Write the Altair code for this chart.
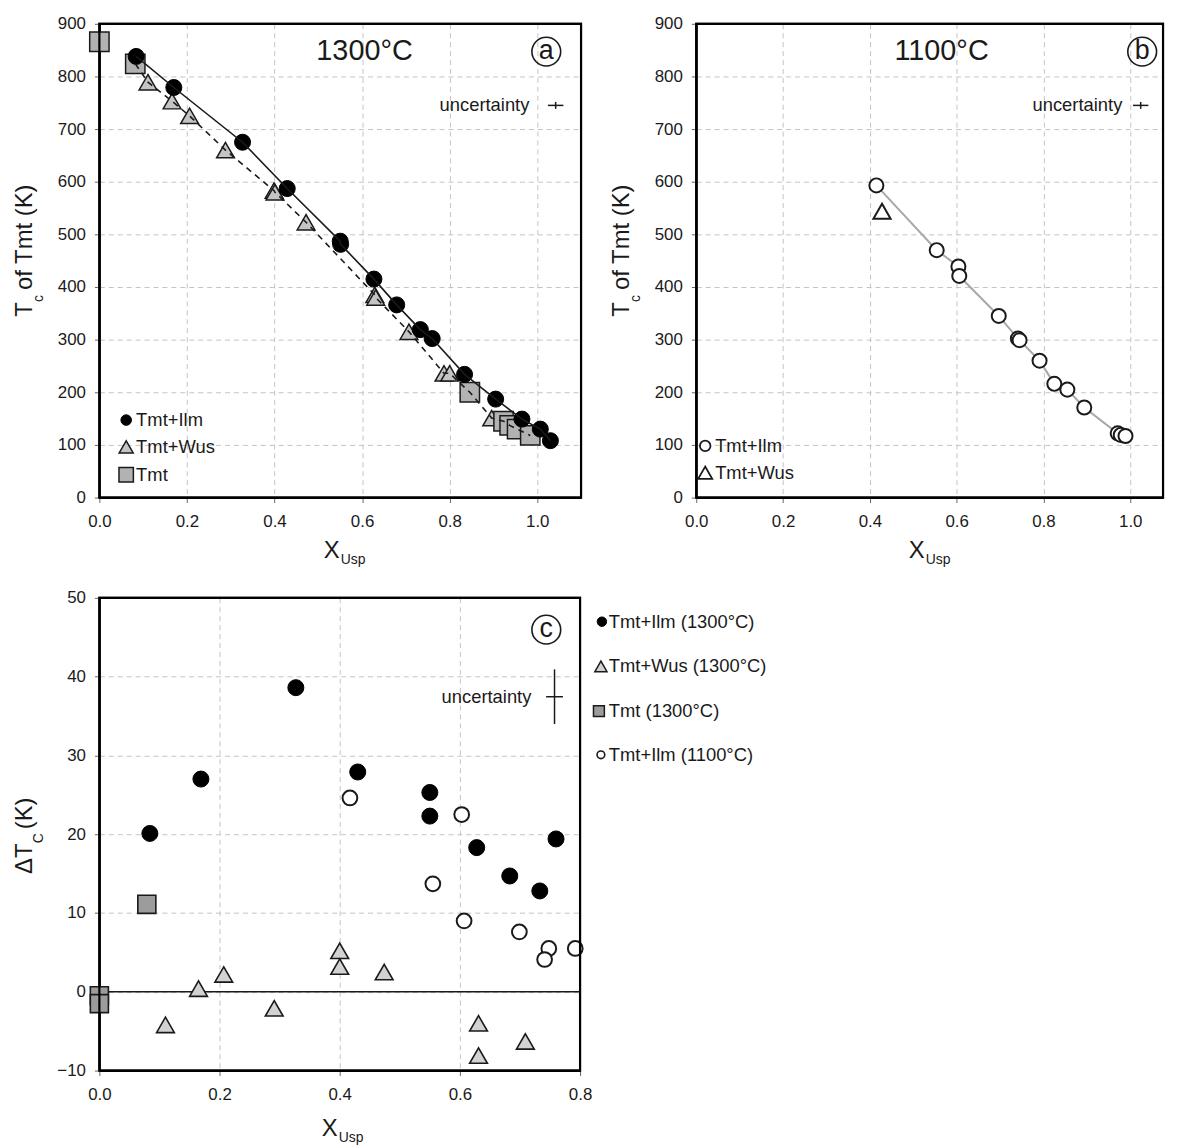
import altair as alt
import pandas as pd

FONT = "Liberation Sans"
INK = "#1a1a1a"

# ---------------- panel (a): 1300 °C ----------------
a_ilm_x = [0.084, 0.170, 0.327, 0.429, 0.550, 0.551, 0.627, 0.679, 0.733, 0.760, 0.834, 0.905, 0.965, 1.007, 1.030]
a_ilm_t = [838, 779, 675, 587, 487, 481, 415, 366, 319, 302, 234, 187, 149, 130, 108]
a_wus_x = [0.111, 0.166, 0.206, 0.288, 0.399, 0.401, 0.472, 0.629, 0.631, 0.707, 0.787, 0.800, 0.896]
a_wus_t = [789, 753, 725, 660, 583, 580, 523, 385, 380, 315, 236, 236, 151]
a_tmt_x = [0.000, 0.082, 0.846, 0.923, 0.937, 0.954, 0.984]
a_tmt_t = [866, 824, 200, 145, 137, 130, 118]

# ---------------- panel (b): 1100 °C ----------------
b_ilm_x = [0.415, 0.554, 0.604, 0.606, 0.697, 0.741, 0.745, 0.791, 0.825, 0.855, 0.894, 0.971, 0.978, 0.989]
b_ilm_t = [593, 470, 439, 421, 345, 302, 299, 260, 216, 205, 171, 122, 119, 117]
b_wus_x = [0.428]
b_wus_t = [544]

# ---------------- panel (c): delta Tc ----------------
c_ilm13_x = [0.084, 0.169, 0.327, 0.430, 0.550, 0.550, 0.628, 0.683, 0.733, 0.760]
c_ilm13_d = [20.1, 27.0, 38.6, 27.9, 25.3, 22.3, 18.3, 14.7, 12.8, 19.4]
c_wus13_x = [0.110, 0.165, 0.207, 0.291, 0.400, 0.400, 0.474, 0.631, 0.631, 0.709]
c_wus13_d = [-4.2, 0.4, 2.2, -2.1, 5.2, 3.2, 2.5, -4.0, -8.1, -6.3]
c_tmt13_x = [0.079, 0.000, 0.000]
c_tmt13_d = [11.1, -0.5, -1.5]
c_ilm11_x = [0.417, 0.603, 0.555, 0.607, 0.699, 0.748, 0.741, 0.792]
c_ilm11_d = [24.6, 22.5, 13.7, 9.0, 7.6, 5.5, 4.1, 5.5]

# uncertainty crosses: centre x, centre y, x error, y error
unc_a = [1.042, 745, 0.0177, 6.6]
unc_b = [1.024, 745, 0.0177, 6.6]
unc_c = [0.7575, 37.45, 0.014, 3.47]

x_ticks_ab = [0.0, 0.2, 0.4, 0.6, 0.8, 1.0]
y_ticks_ab = [0, 100, 200, 300, 400, 500, 600, 700, 800, 900]
x_ticks_c = [0.0, 0.2, 0.4, 0.6, 0.8]
y_ticks_c = [-10, 0, 10, 20, 30, 40, 50]


def df(xs, ys):
    return pd.DataFrame({"x": xs, "y": ys})


def note(txt, x, y, size, align="center", baseline="middle", angle=0):
    return alt.Chart(pd.DataFrame({"t": [txt]})).mark_text(
        text=txt, font=FONT, fontSize=size, align=align, baseline=baseline,
        angle=angle, color=INK
    ).encode(x=alt.value(x), y=alt.value(y))


def marker(shape, x, y, size, fill, stroke, sw, filled=True):
    kw = dict(shape=shape, size=size, stroke=stroke, strokeWidth=sw, opacity=1)
    if filled:
        kw.update(filled=True, fill=fill, fillOpacity=1)
    else:
        kw.update(filled=False)
    return alt.Chart(pd.DataFrame({"t": [0]})).mark_point(**kw).encode(
        x=alt.value(x), y=alt.value(y))


def frame(w, h):
    return alt.Chart(pd.DataFrame({"t": [0]})).mark_rect(
        fillOpacity=0, stroke="black", strokeWidth=2.2
    ).encode(x=alt.value(0), x2=alt.value(w), y=alt.value(0), y2=alt.value(h))


def enc_xy(xdom, ydom, xt, yt):
    X = alt.X("x:Q", scale=alt.Scale(domain=xdom, nice=False, zero=False),
              axis=alt.Axis(title=None, values=xt, format=".1f", grid=True, labelFlush=False))
    Y = alt.Y("y:Q", scale=alt.Scale(domain=ydom, nice=False, zero=False),
              axis=alt.Axis(title=None, values=yt, format="d", grid=True, labelFlush=False))
    return X, Y


def scatter(data, X, Y, shape, size, fill, stroke, sw):
    return alt.Chart(data).mark_point(
        shape=shape, filled=True, fill=fill, stroke=stroke, strokeWidth=sw,
        size=size, opacity=1, fillOpacity=1
    ).encode(x=X, y=Y)


def uncertainty(u, X, Y):
    cx, cy, ex, ey = u
    h = pd.DataFrame({"x": [cx - ex], "x2": [cx + ex], "y": [cy]})
    v = pd.DataFrame({"x": [cx], "y": [cy - ey], "y2": [cy + ey]})
    r1 = alt.Chart(h).mark_rule(color=INK, strokeWidth=1.5).encode(x=X, x2="x2:Q", y=Y)
    r2 = alt.Chart(v).mark_rule(color=INK, strokeWidth=1.5).encode(x=X, y=Y, y2="y2:Q")
    return r1 + r2


def subscript_x_title(main, sub, x, y):
    return note(main, x, y, 24, align="left", baseline="alphabetic") + \
        note(sub, x + 17, y + 6, 14, align="left", baseline="alphabetic")


# ---------- panel a ----------
WA, HA = 485, 477
XA, YA = enc_xy([0, 1.1], [0, 900], x_ticks_ab, y_ticks_ab)
d_ilm_a = df(a_ilm_x, a_ilm_t)
d_wus_a = df(a_wus_x, a_wus_t)
d_tmt_a = df(a_tmt_x, a_tmt_t)
d_dash = pd.concat([d_wus_a, d_tmt_a[d_tmt_a.x > 0]]).sort_values("x")

panel_a = alt.layer(
    scatter(d_wus_a, XA, YA, "triangle-up", 320, "#c4c4c4", INK, 1.5),
    scatter(d_tmt_a, XA, YA, "square", 380, "#b2b2b2", INK, 1.5),
    scatter(d_ilm_a, XA, YA, "circle", 260, "black", "black", 1),
    alt.Chart(d_ilm_a).mark_line(color=INK, strokeWidth=1.6).encode(x=XA, y=YA, order="x:Q"),
    alt.Chart(d_dash).mark_line(color=INK, strokeWidth=1.6, strokeDash=[6, 5]).encode(x=XA, y=YA, order="x:Q"),
    uncertainty(unc_a, XA, YA),
    frame(WA, HA),
    note("1300°C", 267, 27, 29),
    marker("circle", 450, 28, 840, None, INK, 1.6, filled=False),
    note("a", 450, 27, 27),
    note("uncertainty", 433, 82, 18.5, align="right"),
    marker("circle", 27, 399, 113, "black", "black", 1),
    marker("triangle-up", 27, 426, 200, "#c4c4c4", INK, 1.5),
    marker("square", 27, 454, 210, "#b2b2b2", INK, 1.5),
    note("Tmt+Ilm", 37, 399, 18.5, align="left"),
    note("Tmt+Wus", 37, 426, 18.5, align="left"),
    note("Tmt", 37, 454, 18.5, align="left"),
    note("T", -68, 295, 24, align="left", baseline="alphabetic", angle=270),
    note("c", -57, 280, 14, align="left", baseline="alphabetic", angle=270),
    note("of Tmt (K)", -68, 268, 24, align="left", baseline="alphabetic", angle=270),
    subscript_x_title("X", "Usp", 226, 538),
).properties(width=WA, height=HA)

# ---------- panel b ----------
WB, HB = 470, 477
XB, YB = enc_xy([0, 1.0755], [0, 900], x_ticks_ab, y_ticks_ab)
d_ilm_b = df(b_ilm_x, b_ilm_t)
d_wus_b = df(b_wus_x, b_wus_t)

panel_b = alt.layer(
    alt.Chart(d_ilm_b).mark_line(color="#a8a8a8", strokeWidth=2).encode(x=XB, y=YB, order="x:Q"),
    scatter(d_wus_b, XB, YB, "triangle-up", 300, "white", INK, 2),
    scatter(d_ilm_b, XB, YB, "circle", 200, "white", INK, 2),
    uncertainty(unc_b, XB, YB),
    frame(WB, HB),
    note("1100°C", 247, 27, 29),
    marker("circle", 449, 28, 840, None, INK, 1.6, filled=False),
    note("b", 449, 27, 27),
    note("uncertainty", 429, 82, 18.5, align="right"),
    marker("circle", 9, 425, 113, "white", INK, 1.8),
    marker("triangle-up", 9, 452, 200, "white", INK, 1.8),
    note("Tmt+Ilm", 19, 425, 18.5, align="left"),
    note("Tmt+Wus", 19, 452, 18.5, align="left"),
    note("T", -68, 295, 24, align="left", baseline="alphabetic", angle=270),
    note("c", -57, 280, 14, align="left", baseline="alphabetic", angle=270),
    note("of Tmt (K)", -68, 268, 24, align="left", baseline="alphabetic", angle=270),
    subscript_x_title("X", "Usp", 214, 538),
).properties(width=WB, height=HB)

# ---------- panel c ----------
WC, HC = 484, 476
XC, YC = enc_xy([0, 0.8], [-10, 50], x_ticks_c, y_ticks_c)

panel_c = alt.layer(
    alt.Chart(pd.DataFrame({"y": [0]})).mark_rule(color=INK, strokeWidth=1.6).encode(y=YC),
    scatter(df(c_wus13_x, c_wus13_d), XC, YC, "triangle-up", 320, "#d2d2d2", INK, 1.6),
    scatter(df(c_tmt13_x, c_tmt13_d), XC, YC, "square", 330, "#9c9c9c", INK, 1.6),
    scatter(df(c_ilm13_x, c_ilm13_d), XC, YC, "circle", 260, "black", "black", 1),
    scatter(df(c_ilm11_x, c_ilm11_d), XC, YC, "circle", 220, "white", INK, 2),
    uncertainty(unc_c, XC, YC),
    frame(WC, HC),
    marker("circle", 450, 32, 840, None, INK, 1.6, filled=False),
    note("c", 450, 31, 27),
    note("uncertainty", 435, 100, 18.5, align="right"),
    marker("circle", 506, 24, 90, "black", "black", 1),
    marker("triangle-up", 505, 69, 150, "#d2d2d2", INK, 1.5),
    marker("square", 503, 114, 120, "#9c9c9c", INK, 1.5),
    marker("circle", 505, 158, 60, "white", INK, 1.6),
    note("Tmt+Ilm (1300°C)", 513, 24, 18.5, align="left"),
    note("Tmt+Wus (1300°C)", 513, 69, 18.5, align="left"),
    note("Tmt (1300°C)", 513, 114, 18.5, align="left"),
    note("Tmt+Ilm (1100°C)", 513, 158, 18.5, align="left"),
    note("ΔT", -68, 278, 24, align="left", baseline="alphabetic", angle=270),
    note("C", -57, 247, 14, align="left", baseline="alphabetic", angle=270),
    note("(K)", -68, 233, 24, align="left", baseline="alphabetic", angle=270),
    subscript_x_title("X", "Usp", 224, 542),
).properties(width=WC, height=HC)

chart = alt.concat(
    panel_a, panel_b, panel_c, columns=2,
    spacing={"row": 101, "column": 116}, bounds="flush",
).properties(
    autosize=alt.AutoSizeParams(type="none"),
    padding={"left": 92, "top": 12, "right": 1077, "bottom": 1125},
).configure_view(
    stroke="black", strokeWidth=2
).configure_axis(
    labelFont=FONT, labelFontSize=17, labelColor=INK,
    domainColor="black", domainWidth=2,
    tickColor="#666", tickSize=5, tickWidth=1,
    gridColor="#c4c4c4", gridDash=[5, 4], gridWidth=1,
).configure_axisX(labelPadding=11).configure_axisY(labelPadding=9)

chart.save("out.html", embed_options={"renderer": "svg", "actions": False})
